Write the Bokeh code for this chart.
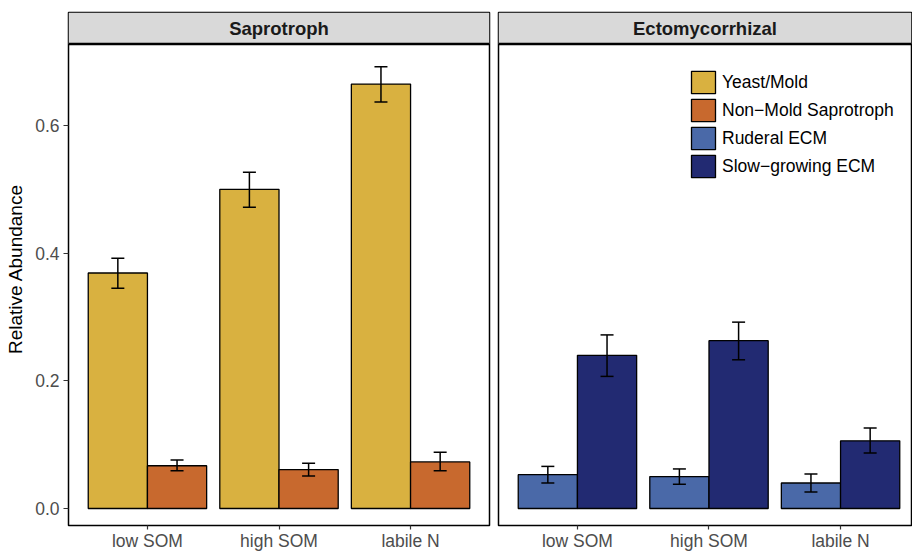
from bokeh.plotting import figure
from bokeh.models import (ColumnDataSource, Range1d, FixedTicker, Whisker, TeeHead,
                          BoxAnnotation, Span, Label, Legend, LegendItem)
from bokeh.layouts import row
from bokeh.transform import dodge
from bokeh.embed import file_html
from bokeh.resources import INLINE

# ---------------- data ----------------
categories = ["low SOM", "high SOM", "labile N"]
panels = ["Saprotroph", "Ectomycorrhizal"]
series = ["Yeast/Mold", "Non\u2212Mold Saprotroph", "Ruderal ECM", "Slow\u2212growing ECM"]

yeast_mean = [0.369, 0.500, 0.665]
yeast_lo = [0.345, 0.472, 0.637]
yeast_hi = [0.392, 0.527, 0.692]

nonmold_mean = [0.067, 0.061, 0.073]
nonmold_lo = [0.059, 0.051, 0.059]
nonmold_hi = [0.076, 0.071, 0.088]

ruderal_mean = [0.053, 0.050, 0.040]
ruderal_lo = [0.040, 0.038, 0.026]
ruderal_hi = [0.066, 0.062, 0.054]

slow_mean = [0.240, 0.263, 0.106]
slow_lo = [0.207, 0.233, 0.087]
slow_hi = [0.272, 0.292, 0.126]

y_ticks = [0.0, 0.2, 0.4, 0.6]

# ---------------- style ----------------
colors = ["#D9B140", "#C8692E", "#4A69A8", "#222A72"]
FONT = "Liberation Sans"
TICK_COL = "#4D4D4D"
Y_MIN, PANEL_TOP, Y_MAX = -0.0266, 0.7277, 0.7771
BAR_W = 0.45

xs = [i + 1 for i in range(len(categories))]


def make_src(mean, lo, hi):
    return ColumnDataSource(dict(x=xs, top=mean, lo=lo, hi=hi))


def base_fig(width, x_end, min_left, min_right, title):
    p = figure(width=width, height=553, output_backend="svg", toolbar_location=None,
               x_range=Range1d(0.4, x_end), y_range=Range1d(Y_MIN, Y_MAX),
               min_border_left=min_left, min_border_right=min_right,
               min_border_top=12, min_border_bottom=24)
    p.outline_line_color = "black"
    p.outline_line_width = 1.5
    p.xgrid.visible = False
    p.ygrid.visible = False
    p.background_fill_color = "white"
    p.border_fill_color = "white"
    ax = p.xaxis[0]
    ax.ticker = FixedTicker(ticks=xs)
    ax.major_label_overrides = {x: c for x, c in zip(xs, categories)}
    ax.axis_line_color = None
    ax.major_tick_in = 0
    ax.major_tick_out = 4
    ax.major_tick_line_color = "#333333"
    ax.major_tick_line_width = 1.2
    ax.minor_tick_line_color = None
    ax.major_label_standoff = 1
    ax.major_label_text_font = FONT
    ax.major_label_text_font_size = "17.5px"
    ax.major_label_text_line_height = 0.9
    ax.major_label_text_color = TICK_COL
    # strip
    p.add_layout(BoxAnnotation(bottom=PANEL_TOP, fill_color="#D9D9D9", fill_alpha=1.0,
                               line_color="#333333", line_width=1, level="underlay"))
    p.add_layout(Span(location=PANEL_TOP, dimension="width", line_color="black",
                      line_width=2.5))
    p.add_layout(Label(x=(0.4 + x_end) / 2, y=(PANEL_TOP + Y_MAX) / 2, text=title,
                       text_align="center", text_baseline="middle", text_font=FONT,
                       text_font_style="bold", text_font_size="18.5px",
                       text_color="#1A1A1A"))
    return p


def add_bars(p, src, offset, color, with_err=True):
    r = p.vbar(x=dodge("x", offset), top="top", bottom=0, width=BAR_W, source=src,
               fill_color=color, line_color="black", line_width=1.3)
    if with_err:
        w = Whisker(base=dodge("x", offset), upper="hi", lower="lo", source=src,
                    line_color="black", line_width=1.5, level="annotation",
                    upper_head=TeeHead(size=13, line_color="black", line_width=1.5),
                    lower_head=TeeHead(size=13, line_color="black", line_width=1.5))
        p.add_layout(w)
    return r


yeast_src = make_src(yeast_mean, yeast_lo, yeast_hi)
nonmold_src = make_src(nonmold_mean, nonmold_lo, nonmold_hi)
ruderal_src = make_src(ruderal_mean, ruderal_lo, ruderal_hi)
slow_src = make_src(slow_mean, slow_lo, slow_hi)

# ---------------- left panel ----------------
left = base_fig(493, 3.6, 68, 4, panels[0])
add_bars(left, yeast_src, -BAR_W / 2, colors[0])
add_bars(left, nonmold_src, BAR_W / 2, colors[1])
ya = left.yaxis[0]
ya.ticker = FixedTicker(ticks=y_ticks)
ya.major_label_overrides = {t: f"{t:.1f}" for t in y_ticks}
ya.axis_line_color = None
ya.major_tick_in = 0
ya.major_tick_out = 5
ya.major_tick_line_color = "#333333"
ya.major_tick_line_width = 1.2
ya.minor_tick_line_color = None
ya.major_label_standoff = 4
ya.major_label_text_font = FONT
ya.major_label_text_font_size = "17.5px"
ya.major_label_text_color = TICK_COL
ya.axis_label = "Relative Abundance"
ya.axis_label_text_font = FONT
ya.axis_label_text_font_size = "19px"
ya.axis_label_text_font_style = "normal"
ya.axis_label_text_color = "black"
ya.axis_label_standoff = 6

# ---------------- right panel ----------------
right = base_fig(419, 0.4 + 413 / 131.56, 5, 1, panels[1])
right.yaxis.visible = False
r3 = add_bars(right, ruderal_src, -BAR_W / 2, colors[2])
r4 = add_bars(right, slow_src, BAR_W / 2, colors[3])
# hidden copies of the saprotroph series, used only for the shared legend
r1 = add_bars(right, yeast_src, -BAR_W / 2, colors[0], with_err=False)
r2 = add_bars(right, nonmold_src, BAR_W / 2, colors[1], with_err=False)
r1.visible = False
r2.visible = False

legend = Legend(items=[LegendItem(label=s, renderers=[r]) for s, r in zip(series, [r1, r2, r3, r4])],
                location=(190, 345), orientation="vertical",
                glyph_width=30, glyph_height=28, label_height=28, spacing=0,
                padding=0, margin=0, label_standoff=4,
                label_text_font=FONT, label_text_font_size="17.5px",
                label_text_color="black", border_line_color=None,
                background_fill_alpha=0, inactive_fill_alpha=0)
right.add_layout(legend)

layout = row(left, right)
open("out.html", "w").write(file_html(layout, INLINE))
